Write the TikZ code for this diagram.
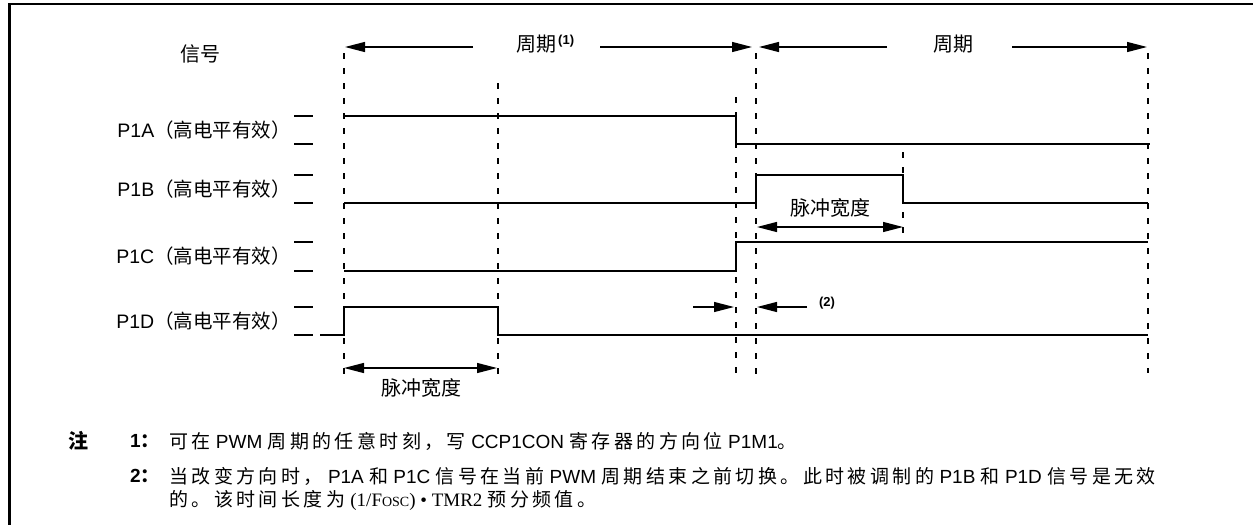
\documentclass[tikz,border=0pt]{standalone}
\usepackage{fontspec}
\setmainfont{Liberation Sans}
\newfontfamily\cjk{Noto Sans CJK SC}
\newfontfamily\cjkwide[LetterSpace=18]{Noto Sans CJK SC}
\newfontfamily\timesfont{Liberation Serif}
\usetikzlibrary{arrows.meta}
\newcommand{\zh}[1]{{\cjk #1}}
\newcommand{\zw}[1]{{\cjkwide #1}}

\begin{document}
\begin{tikzpicture}[x=1pt,y=-1pt,>={Triangle[length=20pt,width=10pt]},
 frame/.style={line width=2.5pt},
 wave/.style={line width=1.5pt,line join=miter},
 guide/.style={line width=1.5pt,dash pattern=on 6pt off 9pt},
 tickmark/.style={line width=1.3pt},
 dimarrow/.style={line width=1.3pt},
 lbl/.style={inner sep=0pt,font=\fontsize{19.5}{23}\selectfont},
 zhlbl/.style={inner sep=0pt,font=\cjk\fontsize{20}{24}\selectfont},
 notetxt/.style={inner sep=0pt,anchor=west,font=\fontsize{19}{23}\selectfont}]
\useasboundingbox (0,0) rectangle (1253,525);
\draw[frame] (1253,4) -- (9.5,4) -- (9.5,525);
\node[zhlbl] (sig) at (200,54) {信号};
\foreach \s/\yy in {A/130,B/189,C/256.5,D/321}
 \node[lbl,anchor=east] (lab\s) at (291,\yy) {P1\s\zh{（高电平有效）}};
\foreach \ty in {116,144,175,203,242,271,307,335}
 \draw[tickmark] (294,\ty) -- (313,\ty);
\foreach \gx/\gt/\gb in {344/53/377,498/83/377,736/97/380,756/53/380,903/152/233,1148/53/373}
 \draw[guide] (\gx,\gt) -- (\gx,\gb);
\draw[wave] (344,116) -- (736,116) -- (736,144) -- (1150,144);
\draw[wave] (344,203) -- (756,203) -- (756,175) -- (903,175) -- (903,203) -- (1148,203);
\draw[wave] (344,271) -- (736,271) -- (736,242) -- (1148,242);
\draw[wave] (320,335) -- (344,335) -- (344,307) -- (498,307) -- (498,335) -- (1148,335);
\node[zhlbl,anchor=west] (per1) at (516,44)
 {周期\hspace{2pt}\raisebox{7.5pt}{\rmfamily\fontsize{13}{13}\selectfont\bfseries(1)}};
\node[zhlbl] (per2) at (953,44) {周期};
\coordinate (p1l) at (473,47); \coordinate (p1le) at (345,47);
\coordinate (p1r) at (600,47); \coordinate (p1re) at (752,47);
\coordinate (p2l) at (887,47); \coordinate (p2le) at (759,47);
\coordinate (p2r) at (1012,47); \coordinate (p2re) at (1147,47);
\draw[dimarrow,->] (p1l) -- (p1le);
\draw[dimarrow,->] (p1r) -- (p1re);
\draw[dimarrow,->] (p2l) -- (p2le);
\draw[dimarrow,->] (p2r) -- (p2re);
\coordinate (w1a) at (344,368); \coordinate (w1b) at (497,368);
\coordinate (w2a) at (757,227); \coordinate (w2b) at (903,227);
\draw[dimarrow,<->] (w1a) -- (w1b);
\draw[dimarrow,<->] (w2a) -- (w2b);
\node[zhlbl] (pw1) at (421,388) {脉冲宽度};
\node[zhlbl] (pw2) at (830,208) {脉冲宽度};
\coordinate (d2a) at (693,307); \coordinate (d2ae) at (734,307);
\coordinate (d2b) at (807,307); \coordinate (d2be) at (757,307);
\draw[dimarrow,->] (d2a) -- (d2ae);
\draw[dimarrow,->] (d2b) -- (d2be);
\node[inner sep=0pt,font=\fontsize{13}{13}\selectfont\bfseries] (mark2) at (827,303) {(2)};
\node[inner sep=0pt,font=\cjk\bfseries\fontsize{20}{24}\selectfont] (notehd) at (78,441) {注};
\node[notetxt,font=\fontsize{19}{23}\selectfont\bfseries] (num1) at (130,441) {1\zh{：}};
\node[notetxt] (txt1) at (169,441)
 {\zw{可在} PWM \zw{周期的任意时刻，写} CCP1CON \zw{寄存器的方向位} P1M1\zw{。}};
\node[notetxt,font=\fontsize{19}{23}\selectfont\bfseries] (num2) at (130,476) {2\zh{：}};
\node[notetxt] (txt2) at (169,476)
 {\zw{当改变方向时，} P1A \zw{和} P1C \zw{信号在当前} PWM \zw{周期结束之前切换。此时被调制的} P1B \zw{和} P1D \zw{信号是无效}};
\node[notetxt] (txt3) at (169,500)
 {\zw{的。该时间长度为} {\timesfont (1/F{\fontsize{14}{14}\selectfont OSC}) • TMR2} \zw{预分频值。}};
\end{tikzpicture}
\end{document}
